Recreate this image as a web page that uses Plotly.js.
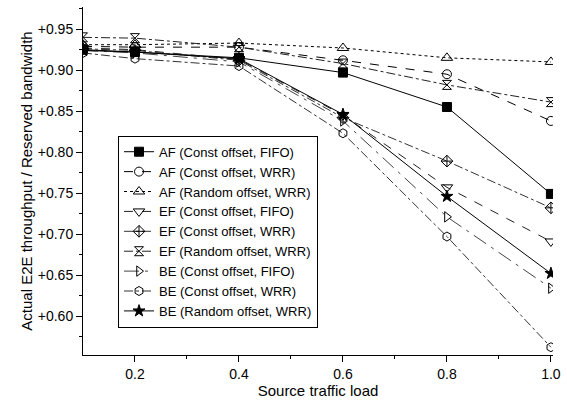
<!DOCTYPE html>
<html><head><meta charset="utf-8">
<script src="https://cdn.plot.ly/plotly-3.0.1.min.js"></script>
<style>html,body{margin:0;padding:0;background:#fff}#chart{width:567px;height:410px}</style>
</head><body><div id="chart"></div>
<script>
const xLoad = [0.1, 0.2, 0.4, 0.6, 0.8, 1.0];
const names = ["AF (Const offset, FIFO)","AF (Const offset, WRR)","AF (Random offset, WRR)","EF (Const offset, FIFO)","EF (Const offset, WRR)","EF (Random offset, WRR)","BE (Const offset, FIFO)","BE (Const offset, WRR)","BE (Random offset, WRR)"];
const afConstFifo  = [0.925, 0.922, 0.915, 0.897, 0.855, 0.749];
const afConstWrr   = [0.929, 0.928, 0.928, 0.912, 0.895, 0.838];
const afRandomWrr  = [0.931, 0.931, 0.933, 0.927, 0.915, 0.910];
const efConstFifo  = [0.927, 0.925, 0.913, 0.845, 0.757, 0.691];
const efConstWrr   = [0.926, 0.924, 0.912, 0.842, 0.789, 0.732];
const efRandomWrr  = [0.940, 0.939, 0.928, 0.908, 0.882, 0.861];
const beConstFifo  = [0.924, 0.921, 0.910, 0.838, 0.721, 0.634];
const beConstWrr   = [0.921, 0.914, 0.905, 0.823, 0.697, 0.562];
const beRandomWrr  = [0.924, 0.922, 0.914, 0.846, 0.746, 0.652];
const series = [afConstFifo, afConstWrr, afRandomWrr, efConstFifo, efConstWrr, efRandomWrr, beConstFifo, beConstWrr, beRandomWrr];

const xTickVals = [0.2, 0.4, 0.6, 0.8, 1.0];
const xTickText = ["0.2", "0.4", "0.6", "0.8", "1.0"];
const yTickVals = [0.60, 0.65, 0.70, 0.75, 0.80, 0.85, 0.90, 0.95];
const yTickText = ["+0.60", "+0.65", "+0.70", "+0.75", "+0.80", "+0.85", "+0.90", "+0.95"];

const dashes = ["solid","dash","dot","dash","dashdot","dashdot","longdashdot","dashdot","solid"];
const symbols = ["square","circle-open","triangle-up-open","triangle-down-open","diamond-cross-open","hourglass-open","triangle-right-open","hexagon-open","star"];
const lcolors = ["#000","#000","#000","#222","#333","#222","#444","#333","#000"];
const msizes = [9, 9, 10, 10, 9, 9, 9, 9, 9];

const traces = series.map((ys, i) => ({
  x: xLoad, y: ys, name: names[i], type: 'scatter', mode: 'lines+markers',
  line: {color: lcolors[i], width: 1, dash: dashes[i]},
  marker: {symbol: symbols[i], size: msizes[i], color: '#000', line: {color: '#000', width: 1}}
}));

const layout = {
  width: 567, height: 410,
  margin: {l: 83, r: 14, t: 7, b: 55},
  paper_bgcolor: '#fff', plot_bgcolor: '#fff',
  font: {family: 'Liberation Sans, Arial, sans-serif', size: 14, color: '#000'},
  showlegend: true,
  legend: {x: 0.0745, y: 0.63, xanchor: 'left', yanchor: 'top', bgcolor: '#fff',
    bordercolor: '#000', borderwidth: 1, font: {size: 13}, tracegroupgap: 0},
  xaxis: {range: [0.1, 1.004], tickmode: 'array', tickvals: xTickVals, ticktext: xTickText,
    showline: true, linecolor: '#000', linewidth: 1, showgrid: false, zeroline: false,
    ticks: 'outside', ticklen: 6, tickcolor: '#000', tickfont: {size: 14},
    minor: {tickvals: [0.3, 0.5, 0.7, 0.9], ticks: 'outside', ticklen: 3, tickcolor: '#000', showgrid: false},
    title: {text: 'Source traffic load', font: {size: 15}, standoff: 2}},
  yaxis: {range: [0.5525, 0.977], tickmode: 'array', tickvals: yTickVals, ticktext: yTickText,
    showline: true, linecolor: '#000', linewidth: 1, showgrid: false, zeroline: false,
    ticks: 'outside', ticklen: 6, tickcolor: '#000', tickfont: {size: 14},
    minor: {tickvals: [0.575, 0.625, 0.675, 0.725, 0.775, 0.825, 0.875, 0.925, 0.975], ticks: 'outside', ticklen: 3, tickcolor: '#000', showgrid: false},
    title: {text: 'Actual E2E throughput / Reserved bandwidth', font: {size: 15}, standoff: 1}}
};
Plotly.newPlot('chart', traces, layout, {displayModeBar: false, staticPlot: true});
</script></body></html>
